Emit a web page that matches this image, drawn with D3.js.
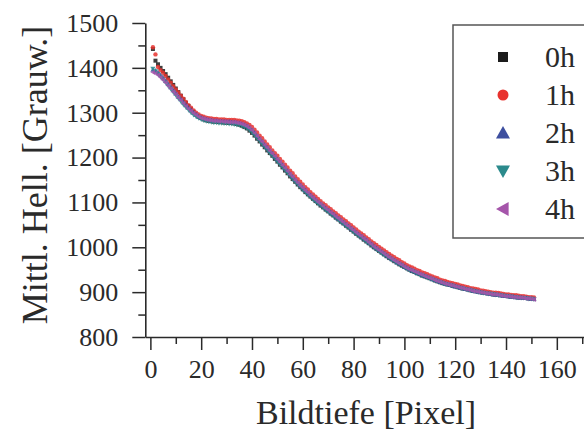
<!DOCTYPE html>
<html><head><meta charset="utf-8">
<script src="https://cdn.jsdelivr.net/npm/d3@7"></script>
<style>html,body{margin:0;padding:0;background:#fff}svg{display:block}</style>
</head><body><svg id="c" width="584" height="432"></svg>
<script>
const seriesNames = ["0h","1h","2h","3h","4h"];
const colors = ["#1c1c1c","#e8322e","#3d4f9f","#2b8a8c","#a555aa"];
const shapes = ["square","circle","up","down","left"];
const xTicks = [0,20,40,60,80,100,120,140,160];
const xMinor = [10,30,50,70,90,110,130,150,170];
const yTicks = [800,900,1000,1100,1200,1300,1400,1500];
const yMinor = [850,950,1050,1150,1250,1350,1450];
const depth = d3.range(1,152); // pixel index 1..151

const v0h = [1442,1416,1408,1400,1393,1386,1378,1370,1362,1354,
1346,1338,1330,1322,1315,1308,1302,1296,1291,1288,
1285,1283,1282,1281,1280,1280,1279,1279,1278,1278,
1277,1277,1276,1275,1273,1271,1268,1265,1260,1255,
1249,1242,1236,1229,1223,1216,1210,1204,1197,1191,
1184,1178,1171,1165,1158,1152,1146,1140,1134,1129,
1123,1118,1113,1108,1103,1098,1093,1089,1084,1080,
1075,1071,1066,1062,1057,1053,1048,1044,1039,1035,
1030,1026,1022,1017,1013,1009,1004,1000,996,992,
988,984,980,976,973,969,966,962,959,956,
953,950,947,945,942,940,937,935,933,931,
929,926,924,922,920,919,917,916,914,913,
911,910,908,907,906,904,903,902,901,900,
899,898,897,896,895,894,894,893,892,892,
891,890,890,889,888,888,887,887,886,885,885];
const v1h = [1446,1430,1402,1395,1389,1382,1374,1367,1359,1352,
1345,1338,1331,1324,1317,1311,1305,1300,1296,1293,
1291,1289,1288,1287,1286,1286,1285,1285,1285,1284,
1284,1284,1284,1283,1282,1281,1279,1276,1273,1268,
1262,1256,1249,1243,1236,1229,1223,1216,1210,1204,
1197,1191,1184,1178,1171,1165,1158,1152,1146,1140,
1134,1129,1123,1118,1113,1108,1103,1098,1094,1089,
1085,1080,1076,1071,1067,1062,1058,1053,1049,1044,
1040,1035,1031,1027,1022,1018,1013,1009,1005,1001,
997,993,989,985,981,978,974,971,967,964,
960,957,955,952,949,947,944,942,940,937,
935,933,931,928,926,925,923,921,920,918,
917,915,914,912,911,909,908,907,906,904,
903,902,901,900,899,899,898,897,896,895,
895,894,893,893,892,891,891,890,889,889,888];
const v2h = [1396,1394,1390,1384,1378,1371,1364,1357,1350,1343,
1336,1330,1323,1317,1311,1305,1300,1296,1292,1289,
1287,1285,1284,1283,1282,1282,1281,1281,1281,1280,
1280,1279,1279,1278,1277,1275,1273,1270,1266,1261,
1255,1248,1242,1235,1228,1222,1215,1209,1202,1196,
1189,1183,1176,1170,1163,1157,1150,1144,1138,1132,
1127,1121,1116,1111,1106,1101,1096,1092,1087,1083,
1078,1074,1069,1064,1060,1055,1051,1047,1042,1038,
1033,1029,1024,1020,1016,1011,1007,1002,998,994,
990,986,982,978,974,971,967,964,961,957,
954,951,948,946,943,941,938,936,934,932,
929,927,925,923,921,919,918,916,915,913,
912,910,909,907,906,905,903,902,901,900,
899,898,897,896,895,895,894,893,892,892,
891,890,890,889,888,888,887,887,886,885,885];
const v3h = [1398,1392,1386,1380,1374,1367,1360,1353,1346,1339,
1332,1325,1318,1312,1306,1300,1295,1291,1288,1285,
1283,1281,1280,1279,1278,1278,1277,1277,1276,1276,
1275,1275,1274,1273,1272,1270,1268,1265,1261,1256,
1250,1243,1237,1230,1223,1217,1210,1204,1198,1191,
1185,1178,1172,1165,1159,1152,1146,1140,1134,1128,
1123,1117,1112,1107,1102,1097,1093,1088,1083,1079,
1074,1070,1065,1061,1056,1052,1047,1043,1039,1034,
1030,1025,1021,1017,1012,1008,1004,999,995,991,
987,983,980,976,972,969,965,962,959,955,
952,949,947,944,942,939,937,935,932,930,
928,926,924,922,920,918,917,915,914,912,
911,909,908,907,905,904,903,902,900,899,
898,897,896,896,895,894,893,893,892,891,
890,890,889,888,888,887,887,886,885,885,884];
const v4h = [1390,1388,1384,1379,1373,1367,1360,1354,1347,1341,
1334,1328,1321,1315,1309,1304,1299,1295,1291,1288,
1287,1285,1284,1283,1282,1282,1281,1281,1280,1280,
1279,1279,1279,1278,1277,1275,1273,1270,1266,1261,
1255,1248,1241,1235,1228,1222,1215,1209,1203,1196,
1190,1183,1177,1170,1163,1157,1150,1144,1138,1133,
1127,1122,1116,1111,1106,1101,1097,1092,1087,1083,
1078,1074,1069,1065,1060,1056,1051,1047,1042,1038,
1033,1029,1025,1020,1016,1011,1007,1002,998,994,
990,986,982,978,975,971,968,964,961,957,
954,951,949,946,944,941,939,936,934,932,
930,927,925,923,921,919,918,916,915,913,
912,910,909,907,906,905,903,902,901,900,
899,898,897,896,895,895,894,893,892,891,
891,890,889,889,888,888,887,886,886,885,884];
const seriesValues = [v0h,v1h,v2h,v3h,v4h];

const svg = d3.select("#c");
const FONT = "'Liberation Serif','Times New Roman',serif";
const x = d3.scaleLinear().domain([-2,172]).range([145.3,587.3]);
const y = d3.scaleLinear().domain([800,1500]).range([337,23]);

function symPath(shape, s){
  const h=s/2;
  if(shape==="square") return `M${-h},${-h}h${s}v${s}h${-s}Z`;
  if(shape==="circle") return d3.symbol(d3.symbolCircle, Math.PI*h*h)();
  if(shape==="up") return `M0,${-h}L${h},${h*0.8}L${-h},${h*0.8}Z`;
  if(shape==="down") return `M0,${h}L${h},${-h*0.8}L${-h},${-h*0.8}Z`;
  if(shape==="left") return `M${-h},0L${h*0.8},${-h}L${h*0.8},${h}Z`;
}

// data
seriesValues.forEach((vals,i)=>{
  const g = svg.append("g");
  const sz = shapes[i]==="square"?4:(shapes[i]==="circle"?4.4:5.2);
  g.selectAll("path").data(depth.map((d,k)=>[d,vals[k]])).join("path")
    .attr("transform",d=>`translate(${x(d[0])},${y(d[1])})`)
    .attr("d",symPath(shapes[i],sz))
    .attr("fill",colors[i]).attr("opacity",0.85);
});

// axes
function styleAxis(g){
  g.selectAll("path.domain").attr("stroke","#2a2a2a").attr("stroke-width",1.6);
  g.selectAll(".tick line").attr("stroke","#2a2a2a").attr("stroke-width",1.5);
  g.selectAll("text").attr("font-family",FONT).attr("font-size",26).attr("fill","#2a2a2a");
}
const gx = svg.append("g").attr("transform","translate(0,337)")
  .call(d3.axisBottom(x).tickValues(xTicks).tickSize(13).tickSizeOuter(0).tickPadding(10).tickFormat(d3.format("d")));
styleAxis(gx);
const gxm = svg.append("g").attr("transform","translate(0,337)")
  .call(d3.axisBottom(x).tickValues(xMinor).tickSize(7).tickSizeOuter(0).tickFormat(""));
styleAxis(gxm); gxm.select("path.domain").remove();
const gy = svg.append("g").attr("transform","translate(145.3,0)")
  .call(d3.axisLeft(y).tickValues(yTicks).tickSize(13).tickSizeOuter(0).tickPadding(14).tickFormat(d3.format("d")));
styleAxis(gy);
const gym = svg.append("g").attr("transform","translate(145.3,0)")
  .call(d3.axisLeft(y).tickValues(yMinor).tickSize(7).tickSizeOuter(0).tickFormat(""));
styleAxis(gym); gym.select("path.domain").remove();

// titles
svg.append("text").attr("x",366).attr("y",424).attr("text-anchor","middle")
  .attr("font-family",FONT).attr("font-size",34).attr("fill","#2a2a2a").text("Bildtiefe [Pixel]");
svg.append("text").attr("transform","translate(47,175) rotate(-90)").attr("text-anchor","middle")
  .attr("font-family",FONT).attr("font-size",36).attr("fill","#2a2a2a").text("Mittl. Hell. [Grauw.]");

// legend
const lg = svg.append("g");
lg.append("rect").attr("x",453).attr("y",25).attr("width",160).attr("height",213)
  .attr("fill","#fff").attr("stroke","#555").attr("stroke-width",1.5);
seriesNames.forEach((n,i)=>{
  const cy = 57 + i*38;
  const sz = shapes[i]==="square"?10:(shapes[i]==="circle"?11:14);
  lg.append("path").attr("transform",`translate(503,${cy})`).attr("d",symPath(shapes[i],sz)).attr("fill",colors[i]);
  lg.append("text").attr("x",545).attr("y",cy+10).attr("font-family",FONT).attr("font-size",30).attr("fill","#2a2a2a").text(n);
});
</script></body></html>
